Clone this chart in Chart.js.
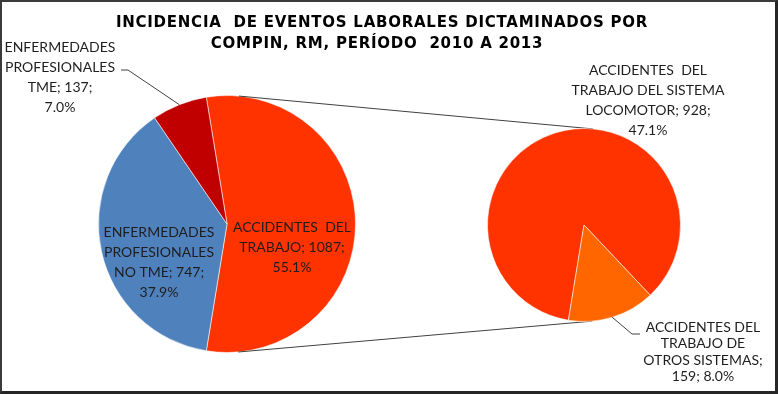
<!DOCTYPE html>
<html>
<head>
<meta charset="utf-8">
<script src="https://cdn.jsdelivr.net/npm/chart.js@4.4.1/dist/chart.umd.min.js"></script>
<style>
html,body{margin:0;padding:0;background:#fff;}
#wrap{position:relative;width:778px;height:394px;overflow:hidden;background:#fff;}
#wrap canvas{position:absolute;left:0;top:0;}
#frame{position:absolute;left:0;top:0;width:778px;height:394px;box-sizing:border-box;
  border-left:2px solid #3a3a3a;border-top:2px solid #3a3a3a;border-right:3px solid #262626;border-bottom:3px solid #262626;pointer-events:none;}
</style>
</head>
<body>
<div id="wrap">
  <canvas id="mainPie" width="778" height="394"></canvas>
  <canvas id="subPie" width="778" height="394"></canvas>
  <div id="frame"></div>
</div>
<script>
// ---------- DATA ----------
const titleLines = ['INCIDENCIA  DE EVENTOS LABORALES DICTAMINADOS POR', 'COMPIN, RM, PERÍODO  2010 A 2013'];
const mainCategories = ['ACCIDENTES  DEL TRABAJO', 'ENFERMEDADES PROFESIONALES NO TME', 'ENFERMEDADES PROFESIONALES TME'];
const mainValues = [1087, 747, 137];
const mainPercents = ['55.1%', '37.9%', '7.0%'];
const subCategories = ['ACCIDENTES  DEL TRABAJO DEL SISTEMA LOCOMOTOR', 'ACCIDENTES DEL TRABAJO DE OTROS SISTEMAS'];
const subValues = [928, 159];
const subPercents = ['47.1%', '8.0%'];

// ---------- STYLE / LAYOUT ----------
const mainColors = ['#FF3300', '#4F81BD', '#C00000'];
const subColors = ['#FF3300', '#FF6600'];
const LABEL_FONT = 'Lato';
const LABEL_SIZE = 14;
const TITLE_FONT = '"DejaVu Sans"';
const TITLE_SIZE = 15;
const TEXT_COLOR = '#1e1e1e';
const LINE_COLOR = '#404040';

// per-slice label layout: line groups (word counts), anchor (center x, first line y), line height, leader elbow
const mainLabelLayout = [
  {groups: [2, 2, 1], x: 292, y: 227, lh: 20},
  {groups: [1, 1, 3, 1], x: 159, y: 232, lh: 20},
  {groups: [1, 1, 2, 1], x: 60, y: 47, lh: 20, leader: [[128, 70], [121, 70]]}
];
const subLabelLayout = [
  {groups: [2, 3, 2, 1], x: 648, y: 70, lh: 20},
  {groups: [2, 2, 2, 2], x: 703, y: 327, lh: 16.5, leader: [[632, 334], [640, 334]]}
];

function labelLines(name, value, pct, groups) {
  const tokens = (name + '; ' + value + '; ' + pct).split(/ (?! )/);
  const lines = [];
  let i = 0;
  for (const g of groups) { lines.push(tokens.slice(i, i + g).join(' ')); i += g; }
  return lines;
}

const sumMain = mainValues.reduce((a, b) => a + b, 0);
// split slice centred on the right-hand side
const mainRotation = 90 - 180 * mainValues[0] / sumMain;

const common = {
  responsive: false,
  animation: false,
  events: [],
  plugins: {legend: {display: false}, tooltip: {enabled: false}, title: {display: false}}
};

const mainChart = new Chart(document.getElementById('mainPie'), {
  type: 'pie',
  data: {
    labels: mainCategories,
    datasets: [{data: mainValues, backgroundColor: mainColors, borderColor: 'rgba(255,255,255,0.55)', borderWidth: 1}]
  },
  options: Object.assign({}, common, {
    rotation: mainRotation,
    layout: {padding: {left: 98, right: 422, top: 95, bottom: 41}}
  })
});

function drawLabel(ctx, arc, lay, lines) {
  ctx.save();
  ctx.fillStyle = TEXT_COLOR;
  ctx.font = LABEL_SIZE + 'px ' + LABEL_FONT;
  ctx.textAlign = 'center';
  ctx.textBaseline = 'middle';
  lines.forEach((t, k) => ctx.fillText(t, lay.x, lay.y + k * lay.lh));
  if (lay.leader) {
    const mid = (arc.startAngle + arc.endAngle) / 2;
    ctx.strokeStyle = LINE_COLOR;
    ctx.lineWidth = 1;
    ctx.beginPath();
    ctx.moveTo(arc.x + arc.outerRadius * Math.cos(mid), arc.y + arc.outerRadius * Math.sin(mid));
    lay.leader.forEach(p => ctx.lineTo(p[0], p[1]));
    ctx.stroke();
  }
  ctx.restore();
}

const overlayPlugin = {
  id: 'pieOfPie',
  beforeDatasetsDraw(chart) {
    const a = mainChart.getDatasetMeta(0).data[0];
    const b = chart.getDatasetMeta(0).data[0];
    const dx = b.x - a.x, dy = b.y - a.y;
    const D = Math.hypot(dx, dy);
    const base = Math.atan2(dy, dx);
    const phi = Math.acos((a.outerRadius - b.outerRadius) / D);
    const ctx = chart.ctx;
    ctx.save();
    ctx.strokeStyle = LINE_COLOR;
    ctx.lineWidth = 1;
    [-1, 1].forEach(s => {
      const ang = base + s * phi;
      ctx.beginPath();
      ctx.moveTo(a.x + a.outerRadius * Math.cos(ang), a.y + a.outerRadius * Math.sin(ang));
      ctx.lineTo(b.x + b.outerRadius * Math.cos(ang), b.y + b.outerRadius * Math.sin(ang));
      ctx.stroke();
    });
    ctx.restore();
  },
  afterDraw(chart) {
    const ctx = chart.ctx;
    // title
    ctx.save();
    ctx.fillStyle = '#000';
    ctx.font = 'bold ' + TITLE_SIZE + 'px ' + TITLE_FONT;
    if ('letterSpacing' in ctx) ctx.letterSpacing = '0.75px';
    ctx.textAlign = 'center';
    ctx.textBaseline = 'alphabetic';
    ctx.fillText(titleLines[0], 382, 27);
    ctx.fillText(titleLines[1], 377, 48);
    ctx.restore();
    const mArcs = mainChart.getDatasetMeta(0).data;
    mainLabelLayout.forEach((lay, i) =>
      drawLabel(ctx, mArcs[i], lay, labelLines(mainCategories[i], mainValues[i], mainPercents[i], lay.groups)));
    const sArcs = chart.getDatasetMeta(0).data;
    subLabelLayout.forEach((lay, i) =>
      drawLabel(ctx, sArcs[i], lay, labelLines(subCategories[i], subValues[i], subPercents[i], lay.groups)));
  }
};

const subChart = new Chart(document.getElementById('subPie'), {
  type: 'pie',
  data: {
    labels: subCategories,
    datasets: [{data: subValues, backgroundColor: subColors, borderColor: 'rgba(255,255,255,0.55)', borderWidth: 1}]
  },
  options: Object.assign({}, common, {
    rotation: 189.3,
    layout: {padding: {left: 487, right: 97, top: 128, bottom: 72}}
  }),
  plugins: [overlayPlugin]
});
</script>
</body>
</html>
